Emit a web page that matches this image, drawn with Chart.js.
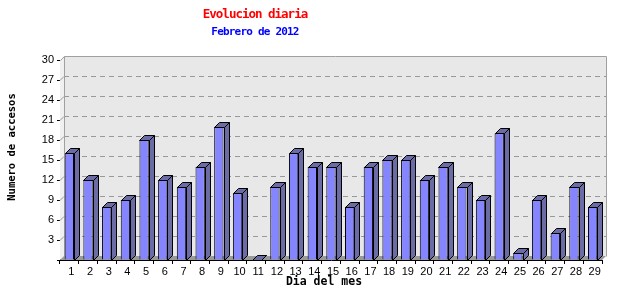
<!DOCTYPE html>
<html>
<head>
<meta charset="utf-8">
<title>Evolucion diaria</title>
<script src="https://cdn.jsdelivr.net/npm/chart.js@4/dist/chart.umd.min.js"></script>
<style>
  body { margin: 0; background: #fff; }
  #wrap { position: relative; width: 640px; height: 300px; }
  .titulo {
    position: absolute;
    left: 255px;
    transform: translateX(-50%);
    white-space: nowrap;
    font-family: "DejaVu Sans Mono", monospace;
    font-weight: bold;
  }
  #titulo { top: 6px; line-height: 15px; font-size: 12.5px; letter-spacing: -1px; color: #ff0000; }
  #subtitulo { top: 26px; line-height: 12px; font-size: 11px; letter-spacing: -0.8px; color: #0000ff; }
</style>
</head>
<body>
<div id="wrap">
  <div id="titulo" class="titulo">Evolucion diaria</div>
  <div id="subtitulo" class="titulo">Febrero de 2012</div>
  <canvas id="grafico" width="640" height="300"></canvas>
</div>
<script>
// ======================================================
// Evolucion diaria - accesos por dia (Febrero 2012)
// ======================================================

// Dias del mes
const dias = ["1", "2", "3", "4", "5", "6", "7", "8", "9", "10",
  "11", "12", "13", "14", "15", "16", "17", "18", "19", "20",
  "21", "22", "23", "24", "25", "26", "27", "28", "29"];

// Numero de accesos por dia
const accesos = [16, 12, 8, 9, 18, 12, 11, 14, 20, 10,
  0, 11, 16, 14, 14, 8, 14, 15, 15, 12,
  14, 11, 9, 19, 1, 9, 4, 11, 8];

// Eje Y
const yMax = 30;
const yPaso = 3;

const tituloX = "Dia del mes";
const tituloY = "Numero de accesos";

// profundidad del efecto 3D
const PROF_PLANO = 4;
const PROF_BARRA = 5;

Chart.defaults.font.family = '"Liberation Sans", Arial, sans-serif';
Chart.defaults.font.size = 10;
Chart.defaults.color = "#000";

function poligono(ctx, puntos) {
  ctx.beginPath();
  ctx.moveTo(puntos[0][0], puntos[0][1]);
  for (let i = 1; i < puntos.length; i++) ctx.lineTo(puntos[i][0], puntos[i][1]);
  ctx.closePath();
}

// ------------------------------------------------------
// Fondo 3D: pared del fondo, pared izquierda, suelo y rejilla
// ------------------------------------------------------
const fondo3d = {
  id: "fondo3d",
  beforeDatasetsDraw(chart) {
    const { ctx, chartArea: a, scales: { y } } = chart;
    const d = PROF_PLANO;
    ctx.save();

    ctx.fillStyle = "#e8e8e8";
    ctx.fillRect(a.left + d, a.top - d, a.right - a.left, a.bottom - a.top);

    ctx.fillStyle = "#f0f0f0";
    poligono(ctx, [[a.left, a.top], [a.left + d, a.top - d], [a.left + d, a.bottom - d], [a.left, a.bottom]]);
    ctx.fill();

    ctx.fillStyle = "#999999";
    poligono(ctx, [[a.left, a.bottom], [a.left + d, a.bottom - d], [a.right + d, a.bottom - d], [a.right, a.bottom]]);
    ctx.fill();

    // rejilla discontinua
    ctx.lineWidth = 1;
    ctx.strokeStyle = "#999999";
    y.ticks.forEach(t => {
      if (t.value <= 0 || t.value >= yMax) return;
      const py = Math.round(y.getPixelForValue(t.value)) + 0.5;
      ctx.setLineDash([]);
      ctx.beginPath();
      ctx.moveTo(a.left, py);
      ctx.lineTo(a.left + d, py - d);
      ctx.stroke();
      ctx.setLineDash([5, 4]);
      ctx.beginPath();
      ctx.moveTo(a.left + d, py - d);
      ctx.lineTo(a.right + d, py - d);
      ctx.stroke();
    });

    // marco
    ctx.setLineDash([]);
    ctx.strokeStyle = "#a0a0a0";
    const l = Math.round(a.left) + 0.5, t = Math.round(a.top) + 0.5;
    const r = Math.round(a.right) + 0.5, b = Math.round(a.bottom) + 0.5;
    ctx.beginPath();
    ctx.moveTo(l, t);
    ctx.lineTo(l + d, t - d);
    ctx.lineTo(r + d, t - d);
    ctx.lineTo(r + d, b - d);
    ctx.moveTo(l + d, t - d);
    ctx.lineTo(l + d, b - d);
    ctx.stroke();

    ctx.restore();
  }
};

// ------------------------------------------------------
// Caras superior y lateral de cada barra + titulos de ejes
// ------------------------------------------------------
const barras3d = {
  id: "barras3d",
  afterDatasetsDraw(chart) {
    const { ctx } = chart;
    const d = PROF_BARRA;
    const meta = chart.getDatasetMeta(0);
    ctx.save();
    ctx.fillStyle = "#6b6ba6";
    ctx.strokeStyle = "#000";
    ctx.lineWidth = 1;
    meta.data.forEach(barra => {
      const { x, y, base, width } = barra.getProps(["x", "y", "base", "width"], true);
      const izq = Math.round(x - width / 2) + 0.5;
      const der = Math.round(x + width / 2) + 0.5;
      const arriba = Math.round(y) + 0.5;
      const abajo = Math.round(base) + 0.5;
      poligono(ctx, [[izq, arriba], [izq + d, arriba - d], [der + d, arriba - d], [der, arriba]]);
      ctx.fill();
      ctx.stroke();
      poligono(ctx, [[der, arriba], [der + d, arriba - d], [der + d, abajo - d], [der, abajo]]);
      ctx.fill();
      ctx.stroke();
    });
    ctx.restore();
  },
  afterDraw(chart) {
    const { ctx } = chart;
    ctx.save();
    ctx.fillStyle = "#000";
    ctx.textAlign = "center";
    ctx.textBaseline = "middle";
    ctx.font = 'bold 11.5px "DejaVu Sans Mono", monospace';
    ctx.fillText(tituloX, 324, 282);
    ctx.translate(12, 147);
    ctx.rotate(-Math.PI / 2);
    ctx.font = 'bold 10.5px "DejaVu Sans Mono", monospace';
    ctx.fillText(tituloY, 0, 0);
    ctx.restore();
  }
};

// ------------------------------------------------------
// Grafico
// ------------------------------------------------------
const ctx = document.getElementById("grafico").getContext("2d");

new Chart(ctx, {
  type: "bar",
  data: {
    labels: dias,
    datasets: [
      {
        label: "Accesos",
        data: accesos,
        backgroundColor: "#8585ff",
        borderColor: "#000",
        borderWidth: 1,
        borderSkipped: "bottom",
        categoryPercentage: 1,
        barPercentage: 0.5
      }
    ]
  },
  options: {
    responsive: false,
    animation: false,
    devicePixelRatio: 1,
    layout: { padding: { top: 60, right: 38, left: 0, bottom: 0 } },
    plugins: {
      legend: { display: false },
      tooltip: { enabled: false }
    },
    scales: {
      x: {
        grid: { drawOnChartArea: false, drawTicks: true, tickLength: 4, color: "#000" },
        border: { color: "#000" },
        ticks: { padding: 1, labelOffset: 2, maxRotation: 0, autoSkip: false, font: { size: 11 } },
        afterFit(scale) { scale.height = 40; }
      },
      y: {
        min: 0,
        max: yMax,
        grid: { drawOnChartArea: false, drawTicks: true, tickLength: 3, color: "#000" },
        border: { color: "#000" },
        ticks: {
          stepSize: yPaso,
          padding: 3,
          font: { size: 11 },
          callback: v => (v === 0 ? "" : v)
        },
        afterFit(scale) { scale.width = 60; }
      }
    }
  },
  plugins: [fondo3d, barras3d]
});
</script>
</body>
</html>
